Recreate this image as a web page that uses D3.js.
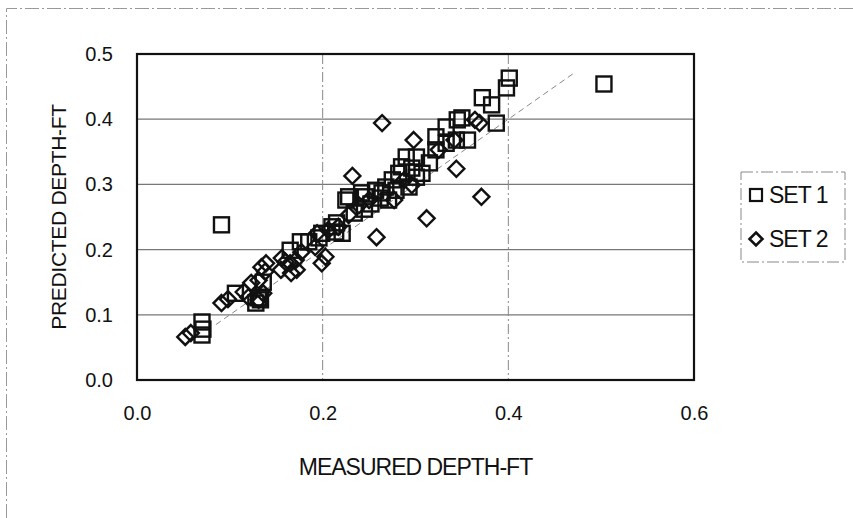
<!DOCTYPE html>
<html>
<head>
<meta charset="utf-8">
<script src="https://cdn.jsdelivr.net/npm/d3@7"></script>
<style>
  body { margin: 0; background: #fff; }
  text { font-family: "Liberation Sans", Arial, sans-serif; fill: #111; }
</style>
</head>
<body>
<div id="chart"></div>
<script>
// measured / predicted depth, ft
var set1X = [0.070, 0.070, 0.071, 0.091, 0.106, 0.128, 0.133, 0.136, 0.131, 0.176,
             0.185, 0.165, 0.196, 0.199, 0.210, 0.215, 0.221, 0.214, 0.225, 0.234,
             0.228, 0.242, 0.246, 0.257, 0.264, 0.268, 0.271, 0.275, 0.279, 0.282,
             0.285, 0.290, 0.293, 0.301, 0.301, 0.307, 0.315, 0.322, 0.322, 0.333,
             0.333, 0.344, 0.345, 0.350, 0.356, 0.372, 0.382, 0.387, 0.398, 0.401,
             0.503, 0.296, 0.245, 0.252, 0.262];
var set1Y = [0.089, 0.069, 0.078, 0.238, 0.133, 0.118, 0.123, 0.150, 0.126, 0.212,
             0.212, 0.199, 0.218, 0.225, 0.235, 0.241, 0.225, 0.227, 0.276, 0.256,
             0.281, 0.287, 0.281, 0.291, 0.287, 0.296, 0.276, 0.307, 0.291, 0.317,
             0.327, 0.342, 0.296, 0.342, 0.311, 0.317, 0.333, 0.353, 0.373, 0.363,
             0.388, 0.368, 0.399, 0.402, 0.368, 0.433, 0.422, 0.394, 0.448, 0.463,
             0.454, 0.325, 0.262, 0.270, 0.279];

var set2X = [0.052, 0.058, 0.091, 0.098, 0.115, 0.120, 0.123, 0.131, 0.138, 0.136,
             0.134, 0.139, 0.155, 0.160, 0.165, 0.171, 0.177, 0.192, 0.199, 0.203,
             0.194, 0.156, 0.166, 0.172, 0.232, 0.264, 0.298, 0.296, 0.344, 0.371,
             0.312, 0.258, 0.369, 0.364, 0.228, 0.239, 0.250, 0.277, 0.288, 0.325,
             0.342, 0.217, 0.206, 0.131];
var set2Y = [0.066, 0.072, 0.118, 0.124, 0.135, 0.127, 0.149, 0.153, 0.166, 0.133,
             0.173, 0.179, 0.169, 0.181, 0.179, 0.184, 0.196, 0.204, 0.179, 0.189,
             0.225, 0.187, 0.164, 0.169, 0.313, 0.394, 0.368, 0.299, 0.324, 0.281,
             0.248, 0.219, 0.394, 0.399, 0.253, 0.268, 0.276, 0.276, 0.307, 0.353,
             0.368, 0.235, 0.230, 0.123];

var xTicks = [0, 0.2, 0.4, 0.6];
var yTicks = [0, 0.1, 0.2, 0.3, 0.4, 0.5];
var lineEnds = [0.085, 0.47];   // 1:1 reference line

var W = 853, H = 518;
var pLeft = 137, pRight = 694, pTop = 54, pBottom = 380;

var x = d3.scaleLinear().domain([0, 0.6]).range([pLeft, pRight]);
var y = d3.scaleLinear().domain([0, 0.5]).range([pBottom, pTop]);

var svg = d3.select("#chart").append("svg")
    .attr("width", W).attr("height", H);

// outer chart frame (only top / left show in the scan)
svg.append("path")
    .attr("d", "M6.5," + H + "V8.5H" + W)
    .attr("fill", "none").attr("stroke", "#999").attr("stroke-dasharray", "14,3,2,3");

// grid
svg.append("g").selectAll("line").data(yTicks.slice(1, -1)).join("line")
    .attr("x1", pLeft).attr("x2", pRight)
    .attr("y1", function(d) { return y(d); }).attr("y2", function(d) { return y(d); })
    .attr("stroke", "#777").attr("stroke-width", 1.2);
svg.append("g").selectAll("line").data(xTicks.slice(1, -1)).join("line")
    .attr("y1", pTop).attr("y2", pBottom)
    .attr("x1", function(d) { return x(d); }).attr("x2", function(d) { return x(d); })
    .attr("stroke", "#888").attr("stroke-dasharray", "10,3,2,3");

// 1:1 line
svg.append("line")
    .attr("x1", x(lineEnds[0])).attr("y1", y(lineEnds[0]))
    .attr("x2", x(lineEnds[1])).attr("y2", y(lineEnds[1]))
    .attr("stroke", "#888").attr("stroke-dasharray", "6,4");

// plot border
svg.append("rect")
    .attr("x", pLeft).attr("y", pTop)
    .attr("width", pRight - pLeft).attr("height", pBottom - pTop)
    .attr("fill", "none").attr("stroke", "#111").attr("stroke-width", 2.2);

// axes (labels only)
var xAxis = svg.append("g")
    .attr("transform", "translate(0," + pBottom + ")")
    .call(d3.axisBottom(x).tickValues(xTicks).tickFormat(d3.format(".1f")).tickSize(0).tickPadding(26));
var yAxis = svg.append("g")
    .attr("transform", "translate(" + pLeft + ",0)")
    .call(d3.axisLeft(y).tickValues(yTicks).tickFormat(d3.format(".1f")).tickSize(0).tickPadding(24));
[xAxis, yAxis].forEach(function(a) {
  a.attr("font-size", null).attr("font-family", null);
  a.select(".domain").remove();
  a.selectAll("text").attr("font-size", 20).style("fill", "#111");
});

// points
var sq = 15;
svg.append("g").selectAll("rect").data(set1X).join("rect")
    .attr("x", function(d) { return x(d) - sq / 2; })
    .attr("y", function(d, i) { return y(set1Y[i]) - sq / 2; })
    .attr("width", sq).attr("height", sq)
    .attr("fill", "none").attr("stroke", "#111").attr("stroke-width", 2.4);

var dm = 8;
function diamond(cx, cy, r) {
  return "M" + cx + "," + (cy - r) + "L" + (cx + r) + "," + cy +
         "L" + cx + "," + (cy + r) + "L" + (cx - r) + "," + cy + "Z";
}
svg.append("g").selectAll("path").data(set2X).join("path")
    .attr("d", function(d, i) { return diamond(x(d), y(set2Y[i]), dm); })
    .attr("fill", "none").attr("stroke", "#111").attr("stroke-width", 2.4);

// axis titles
svg.append("text")
    .attr("x", (pLeft + pRight) / 2).attr("y", 475)
    .attr("text-anchor", "middle").attr("font-size", 23).attr("letter-spacing", -1)
    .text("MEASURED DEPTH-FT");
svg.append("text")
    .attr("transform", "translate(66," + ((pTop + pBottom) / 2) + ") rotate(-90)")
    .attr("text-anchor", "middle").attr("font-size", 21).attr("letter-spacing", -0.3)
    .text("PREDICTED DEPTH-FT");

// legend
var lg = svg.append("g").attr("transform", "translate(741,172)");
lg.append("rect").attr("width", 104).attr("height", 90)
    .attr("fill", "#fff").attr("stroke", "#888").attr("stroke-dasharray", "12,3,2,3");
lg.append("rect").attr("x", 9).attr("y", 17).attr("width", 12).attr("height", 12)
    .attr("fill", "none").attr("stroke", "#111").attr("stroke-width", 2.2);
lg.append("path").attr("d", diamond(15, 67, 6.5))
    .attr("fill", "none").attr("stroke", "#111").attr("stroke-width", 2.6);
lg.append("text").attr("x", 28).attr("y", 31).attr("font-size", 23).attr("letter-spacing", -1).text("SET 1");
lg.append("text").attr("x", 28).attr("y", 75).attr("font-size", 23).attr("letter-spacing", -1).text("SET 2");
</script>
</body>
</html>
